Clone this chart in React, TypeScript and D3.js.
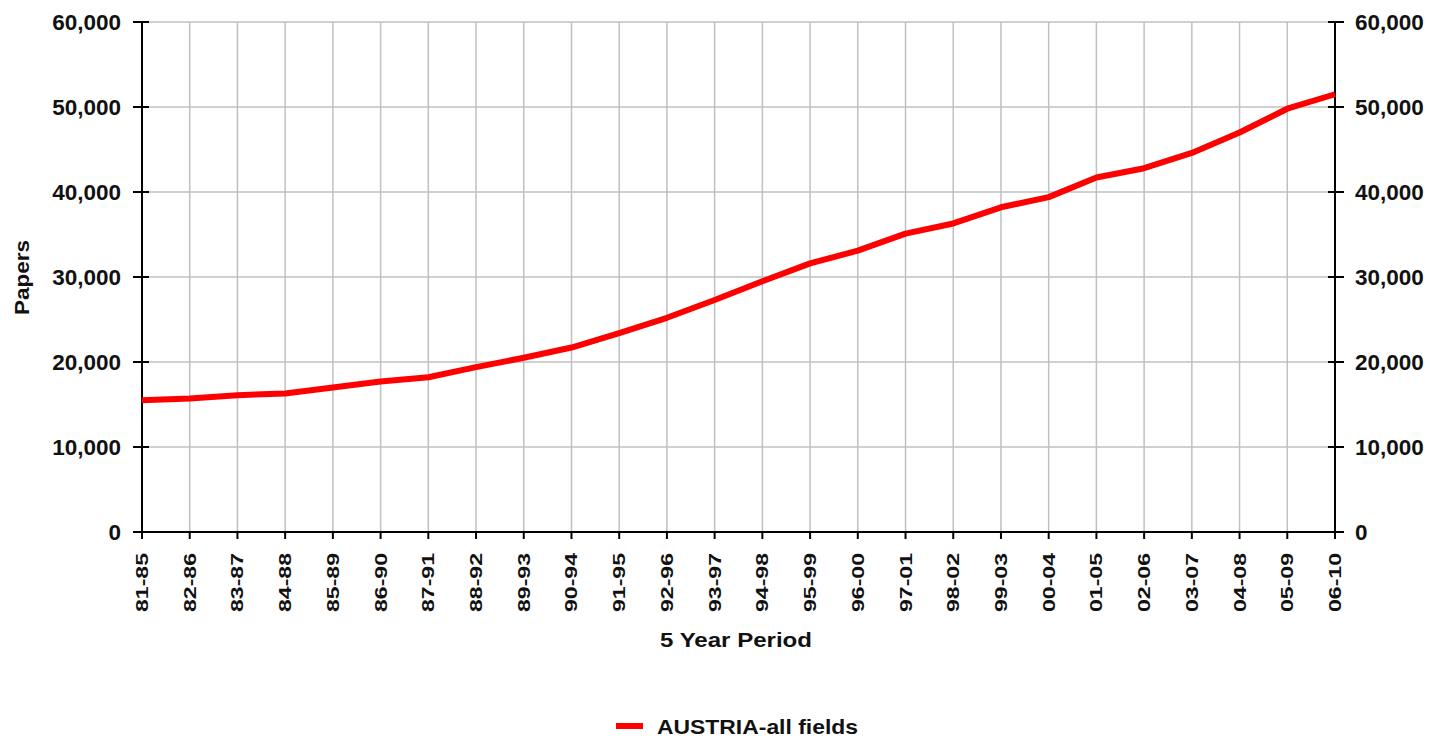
import { useEffect, useRef } from "react"
import * as d3 from "d3"

const periods = [
  "81-85", "82-86", "83-87", "84-88", "85-89", "86-90", "87-91", "88-92", "89-93",
  "90-94", "91-95", "92-96", "93-97", "94-98", "95-99", "96-00", "97-01", "98-02",
  "99-03", "00-04", "01-05", "02-06", "03-07", "04-08", "05-09", "06-10",
]
const papers = [
  15500, 15700, 16100, 16300, 17000, 17700, 18200, 19400, 20500,
  21700, 23400, 25200, 27300, 29500, 31600, 33100, 35100, 36300,
  38200, 39400, 41700, 42800, 44600, 47000, 49800, 51500,
]
const yTicks = [0, 10000, 20000, 30000, 40000, 50000, 60000]
const seriesName = "AUSTRIA-all fields"

const W = 1430
const H = 739
const M = { left: 142, right: 1335, top: 22, bottom: 532 }
const FONT = "'Liberation Sans', Arial, sans-serif"

export default function App() {
  const svgRef = useRef<SVGSVGElement>(null)

  useEffect(() => {
    const svg = svgRef.current
    if (!svg) return
    const root = d3.select(svg)
    root.selectAll("*").remove()

    const x = d3.scalePoint<string>().domain(periods).range([M.left, M.right])
    const y = d3.scaleLinear().domain([0, 60000]).range([M.bottom, M.top])
    const fmt = d3.format(",")

    // grid
    const grid = root.append("g").attr("stroke", "#c0c0c0").attr("stroke-width", 1.5)
    grid.selectAll("line.v").data(periods).join("line")
      .attr("x1", (d) => x(d)!).attr("x2", (d) => x(d)!)
      .attr("y1", M.top).attr("y2", M.bottom)
    grid.selectAll("line.h").data(yTicks).join("line")
      .attr("x1", M.left).attr("x2", M.right)
      .attr("y1", (d) => y(d)).attr("y2", (d) => y(d))

    // axes
    const ax = root.append("g").attr("stroke", "#000").attr("stroke-width", 2)
    ax.append("line").attr("x1", M.left).attr("x2", M.left).attr("y1", M.top).attr("y2", M.bottom + 1)
    ax.append("line").attr("x1", M.right).attr("x2", M.right).attr("y1", M.top).attr("y2", M.bottom + 1)
    ax.append("line").attr("x1", M.left - 9).attr("x2", M.right + 9).attr("y1", M.bottom).attr("y2", M.bottom)
    ax.selectAll("line.tl").data(yTicks).join("line")
      .attr("x1", M.left - 9).attr("x2", M.left + 7)
      .attr("y1", (d) => y(d)).attr("y2", (d) => y(d))
    ax.selectAll("line.tr").data(yTicks).join("line")
      .attr("x1", M.right - 7).attr("x2", M.right + 9)
      .attr("y1", (d) => y(d)).attr("y2", (d) => y(d))
    ax.selectAll("line.tx").data(periods).join("line")
      .attr("x1", (d) => x(d)!).attr("x2", (d) => x(d)!)
      .attr("y1", M.bottom).attr("y2", M.bottom + 7)

    const txt = root.append("g").attr("font-family", FONT).attr("font-weight", "bold").attr("fill", "#111")

    txt.selectAll("text.yl").data(yTicks).join("text")
      .attr("x", M.left - 21).attr("y", (d) => y(d)).attr("dy", "0.36em")
      .attr("text-anchor", "end").attr("font-size", 22.5)
      .text((d) => fmt(d))
    txt.selectAll("text.yr").data(yTicks).join("text")
      .attr("x", M.right + 20).attr("y", (d) => y(d)).attr("dy", "0.36em")
      .attr("text-anchor", "start").attr("font-size", 22.5)
      .text((d) => fmt(d))

    txt.selectAll("text.xl").data(periods).join("text")
      .attr("transform", (d) => `translate(${x(d)! + 6},553) rotate(-90)`)
      .attr("text-anchor", "end").attr("font-size", 16)
      .attr("textLength", 59).attr("lengthAdjust", "spacingAndGlyphs")
      .text((d) => d)

    txt.append("text")
      .attr("x", 660).attr("y", 647)
      .attr("font-size", 21)
      .attr("textLength", 152).attr("lengthAdjust", "spacingAndGlyphs")
      .text("5 Year Period")

    txt.append("text")
      .attr("transform", `translate(29,315) rotate(-90)`)
      .attr("font-size", 21)
      .attr("textLength", 75).attr("lengthAdjust", "spacingAndGlyphs")
      .text("Papers")

    // series
    const line = d3.line<number>()
      .x((_, i) => x(periods[i])!)
      .y((d) => y(d))
    root.append("path").datum(papers)
      .attr("d", line)
      .attr("fill", "none").attr("stroke", "#ff0000")
      .attr("stroke-width", 6).attr("stroke-linejoin", "round")

    // legend
    root.append("line")
      .attr("x1", 616).attr("x2", 643).attr("y1", 726).attr("y2", 726)
      .attr("stroke", "#ff0000").attr("stroke-width", 6)
    txt.append("text")
      .attr("x", 657).attr("y", 734).attr("font-size", 21)
      .attr("textLength", 201).attr("lengthAdjust", "spacingAndGlyphs")
      .text(seriesName)
  }, [])

  return (
    <svg ref={svgRef} width={W} height={H}
      style={{ position: "absolute", left: 0, top: 0, background: "#fff" }} />
  )
}
